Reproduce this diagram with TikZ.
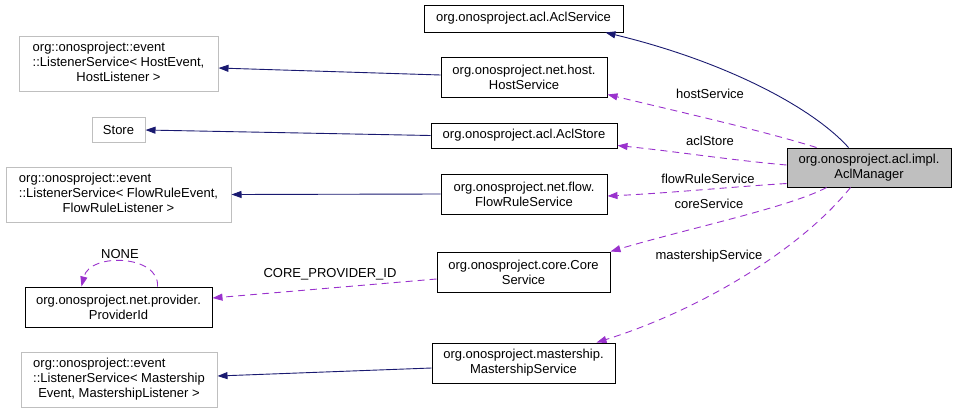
\documentclass[tikz,border=0pt]{standalone}
\usepackage{fontspec}
\setmainfont{Liberation Sans}
\usetikzlibrary{arrows.meta}
\definecolor{dxblue}{HTML}{191970}
\definecolor{dxpurple}{HTML}{9A32CD}
\definecolor{dxgrey}{HTML}{BFBFBF}
\begin{document}
\begin{tikzpicture}[x=1pt,y=-1pt,
  font=\fontsize{13}{15}\selectfont,
  box/.style={draw=black, line width=1pt, inner sep=0pt, align=center},
  gbox/.style={draw=dxgrey, line width=1pt, inner sep=0pt, align=center},
  inh/.style={draw=dxblue, line width=0.9pt, -{Triangle[length=10pt,width=7pt]}},
  use/.style={draw=dxpurple, line width=0.9pt, dash pattern=on 7pt off 5pt, -{Triangle[length=10pt,width=7pt,fill=dxpurple]}},
  lbl/.style={inner sep=0pt}]
\useasboundingbox (0,0) rectangle (957,413);
% nodes
\node[box, fill=dxgrey, minimum width=164pt, minimum height=39pt] (mgr) at (869,167.5) {org.onosproject.acl.impl.\\AclManager};
\node[box, minimum width=199pt, minimum height=27pt] (svc) at (523.5,18.5) {org.onosproject.acl.AclService};
\node[box, minimum width=166pt, minimum height=40pt] (host) at (524,77) {org.onosproject.net.host.\\HostService};
\node[box, minimum width=186pt, minimum height=25pt] (store) at (524,135.5) {org.onosproject.acl.AclStore};
\node[box, minimum width=166pt, minimum height=40pt] (flow) at (524,194) {org.onosproject.net.flow.\\FlowRuleService};
\node[box, minimum width=173pt, minimum height=40pt] (core) at (523.5,272) {org.onosproject.core.Core\\Service};
\node[box, minimum width=183pt, minimum height=40pt] (mast) at (523.5,363) {org.onosproject.mastership.\\MastershipService};
\node[gbox, minimum width=199pt, minimum height=55pt] (lhost) at (118.5,63.5) {\begin{tabular}{@{}l@{}}org::onosproject::event\\::ListenerService< HostEvent,\\\multicolumn{1}{@{}c@{}}{HostListener >}\end{tabular}};
\node[gbox, minimum width=53pt, minimum height=25pt] (lstore) at (118.5,130) {Store};
\node[gbox, minimum width=225pt, minimum height=55pt] (lflow) at (118.5,194.5) {\begin{tabular}{@{}l@{}}org::onosproject::event\\::ListenerService< FlowRuleEvent,\\\multicolumn{1}{@{}c@{}}{FlowRuleListener >}\end{tabular}};
\node[box, minimum width=187pt, minimum height=40pt] (pid) at (118.5,307) {org.onosproject.net.provider.\\ProviderId};
\node[gbox, minimum width=196pt, minimum height=55pt] (lmast) at (119,379.5) {\begin{tabular}{@{}l@{}}org::onosproject::event\\::ListenerService< Mastership\\\multicolumn{1}{@{}c@{}}{Event, MastershipListener >}\end{tabular}};
% inheritance edges
\draw[inh] ([xshift=62pt]mgr.north west) .. controls (810,105) and (720,60) .. ([xshift=-18pt]svc.south east);
\draw[inh] ([yshift=2pt]host.west) -- ([yshift=-4.5pt]lhost.east);
\draw[inh] (store.west) -- (lstore.east);
\draw[inh] (flow.west) -- (lflow.east);
\draw[inh] ([yshift=-5pt]mast.west) -- ([yshift=3.5pt]lmast.east);
% usage edges
\draw[use] ([xshift=30pt]mgr.north west) .. controls (760,130) and (680,112) .. ([yshift=3pt]host.south east);
\draw[use] ([yshift=2.5pt]mgr.west) .. controls (730,160) and (680,152) .. ([yshift=3pt]store.south east);
\draw[use] ([yshift=4pt]mgr.south west) .. controls (730,187) and (670,193) .. ([yshift=-2pt]flow.east);
\draw[use] ([xshift=40pt]mgr.south west) .. controls (790,207) and (690,228) .. (core.north east);
\draw[use] ([xshift=64pt]mgr.south west) .. controls (800,250) and (700,310) .. ([xshift=-19pt]mast.north east);
\draw[use] ([yshift=-7pt]core.west) -- ([yshift=9pt]pid.east);
\draw[use] ([xshift=39pt]pid.north) .. controls (160,255) and (90,252) .. ([xshift=-37pt]pid.north);
% labels
\node[lbl] (lhs) at (710,94) {hostService};
\node[lbl] (las) at (710,141) {aclStore};
\node[lbl] (lfs) at (708,179) {flowRuleService};
\node[lbl] (lcs) at (709,204) {coreService};
\node[lbl] (lms) at (709,256) {mastershipService};
\node[lbl] (lcp) at (330,274) {CORE\_PROVIDER\_ID};
\node[lbl] (lno) at (120,254) {NONE};
\end{tikzpicture}
\end{document}
